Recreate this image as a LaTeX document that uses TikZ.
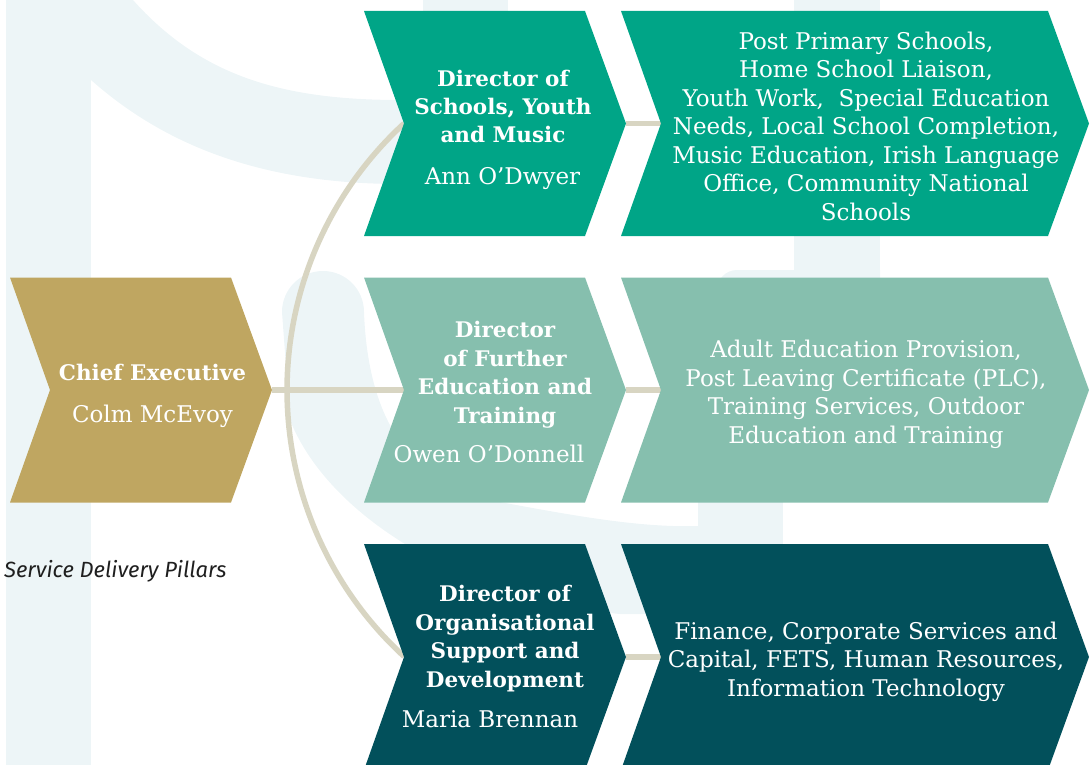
\documentclass[tikz,border=0pt]{standalone}
\usepackage{fontspec}
\setmainfont{DejaVu Serif}
\newfontfamily\pillarfont{Fira Sans}
\definecolor{gold}{HTML}{BFA661}
\definecolor{teala}{HTML}{00A587}
\definecolor{tealb}{HTML}{86BFAE}
\definecolor{tealc}{HTML}{02505B}
\definecolor{linec}{HTML}{D8D5C2}
\definecolor{pale}{HTML}{EDF5F7}
\newcommand\chev[6]{%
  \fill[#6] (#2,#3) -- (#4,#3) -- ({#4+41},{(#3+#5)/2}) -- (#4,#5) -- (#2,#5) -- ({#2+40},{(#3+#5)/2}) -- cycle;
  \coordinate (#1-tip) at ({#4+41},{(#3+#5)/2});
  \coordinate (#1-notch) at ({#2+40},{(#3+#5)/2});
}
\begin{document}
\begin{tikzpicture}[x=1pt,y=-1pt,
  conn/.style={draw=linec, line width=5.5pt},
  head/.style={text=white, align=center, inner sep=0pt, anchor=base, font=\bfseries\fontsize{21.5}{28.5}\selectfont},
  persontext/.style={text=white, inner sep=0pt, anchor=base, font=\fontsize{23}{28.5}\selectfont},
  listtext/.style={text=white, align=center, inner sep=0pt, anchor=base, font=\fontsize{23}{28.5}\selectfont}]
\useasboundingbox (0,0) rectangle (1090,765);
\clip (0,0) rectangle (1090,765);
% background watermark
\fill[pale] (6,0) rectangle (91,765);
\fill[pale] (91,0) -- (133,0) .. controls (200,75) and (280,100) .. (400,100) -- (520,100) -- (520,184) -- (400,184) .. controls (270,184) and (170,150) .. (91,80) -- cycle;
\fill[pale] (423,0) rectangle (508,200);
\fill[pale] (794,0) rectangle (880,360);
\fill[pale] (717,360) [rounded corners=20pt] -- (717,270) [sharp corners] -- (880,270) -- (880,360) -- cycle;
\fill[pale] (698,330) rectangle (783,765);
\fill[pale] (282,312) arc[start angle=180, end angle=360, radius=41]
  .. controls (368,420) and (410,485) .. (500,502)
  .. controls (570,515) and (640,528) .. (698,526)
  -- (698,614) -- (620,614) .. controls (470,600) and (330,520) .. (290,420) -- cycle;
% connector end points
\coordinate (ce-tip) at (272,390);
\coordinate (d1-notch) at (404,123.5);
\coordinate (d1-tip) at (626,123.5);
\coordinate (d2-notch) at (404,390);
\coordinate (d2-tip) at (626,390);
\coordinate (d3-notch) at (404,657);
\coordinate (d3-tip) at (626,657);
\coordinate (r1-notch) at (661,123.5);
\coordinate (r2-notch) at (661,390);
\coordinate (r3-notch) at (661,657);
% connectors
\draw[conn] (ce-tip) -- (d2-notch);
\draw[conn] (d1-notch) arc[start angle=227.4, end angle=132.6, radius=362];
\draw[conn] (d1-tip) -- (r1-notch);
\draw[conn] (d2-tip) -- (r2-notch);
\draw[conn] (d3-tip) -- (r3-notch);
% chevrons over connector ends
\chev{ce}{10}{277.5}{231}{502.5}{gold}
\chev{d1}{364}{11}{585}{236}{teala}
\chev{d2}{364}{277.5}{585}{502.5}{tealb}
\chev{d3}{364}{544}{585}{770}{tealc}
\chev{r1}{621}{11}{1048}{236}{teala}
\chev{r2}{621}{277.5}{1048}{502.5}{tealb}
\chev{r3}{621}{544}{1048}{770}{tealc}
% texts (anchor base = baseline of last line)
\node[head] (ce-t) at (152.5,380) {Chief Executive};
\node[persontext] (ce-n) at (152.5,422) {Colm McEvoy};
\node[head] (d1-t) at (503,143) {Director of\\Schools, Youth\\and Music};
\node[persontext] (d1-n) at (502.5,184) {Ann O’Dwyer};
\node[head] (d2-t) at (505,423) {Director\\of Further\\Education and\\Training};
\node[persontext] (d2-n) at (489,462) {Owen O’Donnell};
\node[head] (d3-t) at (505,687) {Director of\\Organisational\\Support and\\Development};
\node[persontext] (d3-n) at (490,727) {Maria Brennan};
\node[listtext] (r1-t) at (866,220) {Post Primary Schools,\\Home School Liaison,\\Youth Work,~ Special Education\\Needs, Local School Completion,\\Music Education, Irish Language\\Office, Community National\\Schools};
\node[listtext] (r2-t) at (866,443) {Adult Education Provision,\\Post Leaving Certificate (PLC),\\Training Services, Outdoor\\Education and Training};
\node[listtext] (r3-t) at (866,696) {Finance, Corporate Services and\\Capital, FETS, Human Resources,\\Information Technology};
\node[anchor=base west, inner sep=0pt, text=black!88, font=\pillarfont\itshape\fontsize{22}{26}\selectfont] (pillars) at (4,577) {Service Delivery Pillars};
\end{tikzpicture}
\end{document}
